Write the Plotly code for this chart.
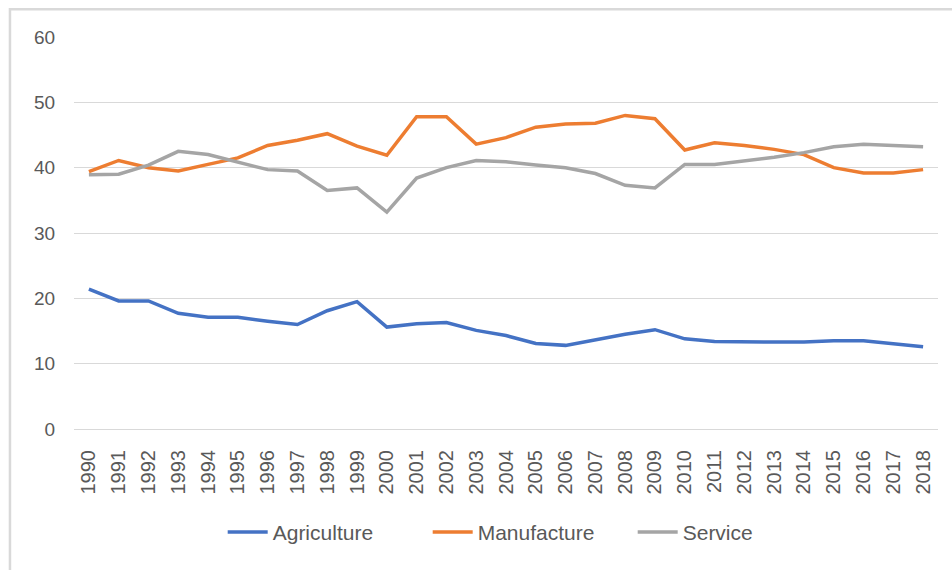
import plotly.graph_objects as go

years = [str(y) for y in range(1990, 2019)]
agriculture = [21.4, 19.6, 19.6, 17.7, 17.1, 17.1, 16.5, 16.0, 18.1, 19.5,
               15.6, 16.1, 16.3, 15.1, 14.3, 13.1, 12.8, 13.7, 14.5, 15.2,
               13.8, 13.4, 13.3, 13.3, 13.3, 13.5, 13.5, 13.1, 12.6]
manufacture = [39.4, 41.1, 40.0, 39.5, 40.5, 41.5, 43.4, 44.2, 45.2, 43.3,
               41.9, 47.8, 47.8, 43.6, 44.6, 46.2, 46.7, 46.8, 48.0, 47.5,
               42.7, 43.8, 43.4, 42.8, 42.0, 40.0, 39.2, 39.2, 39.7]
service = [38.9, 39.0, 40.4, 42.5, 42.0, 40.9, 39.7, 39.5, 36.5, 36.9,
           33.2, 38.4, 40.0, 41.1, 40.9, 40.4, 40.0, 39.1, 37.3, 36.9,
           40.5, 40.5, 41.0, 41.6, 42.3, 43.2, 43.6, 43.4, 43.2]
y_ticks = [0, 10, 20, 30, 40, 50, 60]

series = [("Agriculture", agriculture, "#4472C4"),
          ("Manufacture", manufacture, "#ED7D31"),
          ("Service", service, "#A5A5A5")]

fig = go.Figure()
for name, vals, col in series:
    fig.add_trace(go.Scatter(x=years, y=vals, name=name, mode="lines",
                             line=dict(color=col, width=3.5)))

W, H = 952, 570
L, R, T, B = 74, 14.4, 36.7, 141.3
pw, ph = W - L - R, H - T - B

fig.update_layout(
    width=W, height=H,
    margin=dict(l=L, r=R, t=T, b=B, pad=0),
    paper_bgcolor="white", plot_bgcolor="white",
    font=dict(family="Liberation Sans, Arial, sans-serif", color="#595959", size=20),
    showlegend=True,
    legend=dict(orientation="h", x=0.528, xanchor="center",
                y=(T + ph - 532) / ph, yanchor="middle",
                font=dict(size=21, color="#595959"),
                itemwidth=40, tracegroupgap=0,
                entrywidth=150, entrywidthmode="pixels"),
    shapes=[dict(type="rect", xref="paper", yref="paper",
                 x0=(10 - L) / pw, x1=1.5, y0=-1.0, y1=(T + ph - 9) / ph,
                 line=dict(color="#d9d9d9", width=2.5), layer="below")],
)
fig.update_xaxes(type="category", range=[-0.5, len(years) - 0.5],
                 tickangle=-90, showgrid=False, showline=True,
                 linecolor="#d9d9d9", linewidth=1,
                 ticks="outside", ticklen=12, tickcolor="rgba(0,0,0,0)",
                 tickfont=dict(size=20, family="Liberation Sans, Arial, sans-serif"))
fig.update_yaxes(range=[0, 60], tickvals=y_ticks, showgrid=True,
                 gridcolor="#d9d9d9", gridwidth=1, zeroline=False,
                 showline=False, ticks="outside", ticklen=14,
                 tickcolor="rgba(0,0,0,0)",
                 tickfont=dict(size=19, family="Liberation Sans, Arial, sans-serif"))

fig.write_html("out.html")
